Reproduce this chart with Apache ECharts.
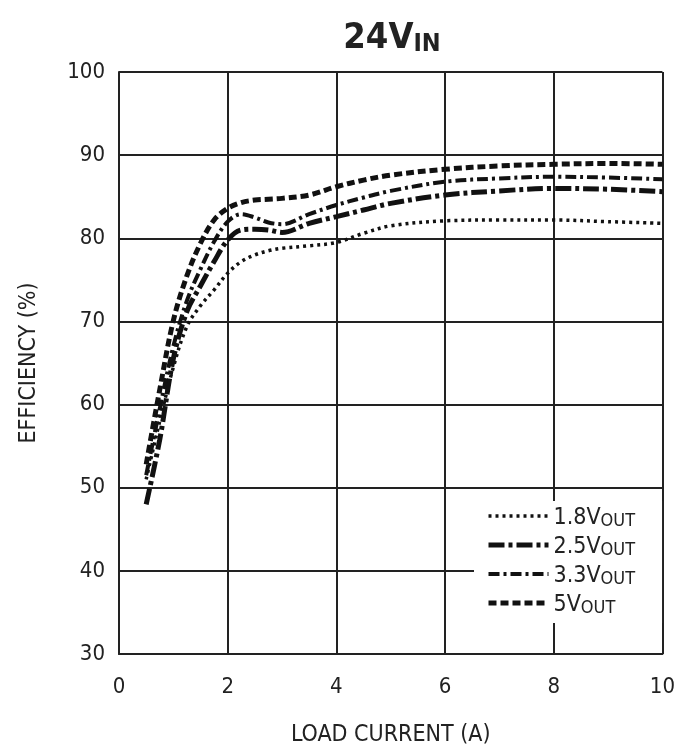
<!DOCTYPE html>
<html>
<head>
<meta charset="utf-8">
<script src="https://cdn.jsdelivr.net/npm/echarts@6/dist/echarts.min.js"></script>
<style>
  html, body { margin: 0; padding: 0; background: #fff; }
  #chart { width: 678px; height: 752px; }
</style>
</head>
<body>
<div id="chart"></div>
<script>
// load current (A), shared by all curves
var loadA = [0.5, 0.75, 1, 1.25, 1.5, 1.75, 2, 2.25, 2.5, 2.75, 3, 3.5, 4, 4.5, 5, 6, 7, 8, 9, 10];

// efficiency (%) per output voltage
var eff18 = [51, 58, 64.5, 69.4, 71.9, 73.8, 75.8, 77.2, 78.0, 78.5, 78.8, 79.1, 79.5, 80.6, 81.5, 82.1, 82.2, 82.2, 82.0, 81.8];
var eff25 = [48, 55.8, 65.5, 71.2, 74.3, 77.2, 79.8, 81.0, 81.1, 81.0, 80.7, 81.8, 82.6, 83.4, 84.2, 85.2, 85.7, 86.0, 85.9, 85.6];
var eff33 = [51.5, 59.5, 67, 72.5, 76.3, 79.6, 82.0, 82.9, 82.5, 81.9, 81.7, 82.9, 84.0, 84.9, 85.7, 86.8, 87.2, 87.4, 87.3, 87.1];
var eff50 = [52.8, 61.8, 70.1, 75.5, 79.4, 82.2, 83.6, 84.3, 84.6, 84.7, 84.8, 85.2, 86.2, 87.0, 87.6, 88.3, 88.7, 88.9, 89.0, 88.9];

var xTicks = [0, 2, 4, 6, 8, 10];
var yTicks = [30, 40, 50, 60, 70, 80, 90, 100];

var seriesNames = ['1.8V', '2.5V', '3.3V', '5V'];

function pairs(ys) {
    return loadA.map(function (x, i) { return [x, ys[i]]; });
}

var font = "'DejaVu Sans Condensed', 'Liberation Sans Narrow', 'Liberation Sans', sans-serif";

// line styles: dotted, heavy dash-dot, dash-dot, dashed
var styles = [
    { width: 3.5, type: [3, 4], cap: 'butt' },
    { width: 5, type: [16, 4, 4, 4], cap: 'butt' },
    { width: 4, type: [11, 4, 3, 4], cap: 'butt' },
    { width: 5, type: [8, 4], cap: 'butt' }
];
var datas = [eff18, eff25, eff33, eff50];

var chart = echarts.init(document.getElementById('chart'));

var option = {
    backgroundColor: '#fff',
    animation: false,
    title: {
        text: '{a|24V}{b|IN}',
        left: 387,
        top: 12,
        textAlign: 'center',
        textStyle: {
            rich: {
                a: { fontFamily: font, fontSize: 36, fontWeight: 'bold', color: '#222', verticalAlign: 'bottom', lineHeight: 40 },
                b: { fontFamily: font, fontSize: 25, fontWeight: 'bold', color: '#222', verticalAlign: 'bottom', lineHeight: 34 }
            }
        }
    },
    grid: { left: 119, right: 14, top: 72, bottom: 96 },
    legend: {
        orient: 'vertical',
        left: 474,
        top: 501,
        backgroundColor: '#fff',
        padding: [6, 27, 6, 12],
        itemGap: 6,
        itemWidth: 60,
        itemHeight: 14,
        data: seriesNames,
        itemStyle: { color: 'rgba(0,0,0,0)', borderWidth: 0, opacity: 0 },
        lineStyle: { width: 'inherit', type: 'inherit', cap: 'inherit' },
        formatter: function (n) { return '{a|' + n + '}{b|OUT}'; },
        textStyle: {
            rich: {
                a: { fontFamily: font, fontSize: 23, color: '#222', verticalAlign: 'bottom', lineHeight: 28 },
                b: { fontFamily: font, fontSize: 18, color: '#222', verticalAlign: 'bottom', lineHeight: 24 }
            }
        }
    },
    xAxis: {
        type: 'value',
        min: 0, max: 10, interval: 2,
        name: 'LOAD CURRENT (A)',
        nameLocation: 'middle',
        nameGap: 70,
        nameTextStyle: { fontFamily: font, fontSize: 23, color: '#222' },
        axisLine: { lineStyle: { color: '#222', width: 2 } },
        axisTick: { show: false },
        axisLabel: { fontFamily: font, fontSize: 22, color: '#222', margin: 22 },
        splitLine: { lineStyle: { color: '#222', width: 2 } }
    },
    yAxis: {
        type: 'value',
        min: 30, max: 100, interval: 10,
        name: 'EFFICIENCY (%)',
        nameLocation: 'middle',
        nameGap: 78,
        nameTextStyle: { fontFamily: font, fontSize: 23, color: '#222' },
        axisLine: { show: true, lineStyle: { color: '#222', width: 2 } },
        axisTick: { show: false },
        axisLabel: { fontFamily: font, fontSize: 22, color: '#222', margin: 14 },
        splitLine: { lineStyle: { color: '#222', width: 2 } }
    },
    series: seriesNames.map(function (n, i) {
        return {
            name: n,
            type: 'line',
            symbol: 'none',
            smooth: 0.35,
            color: '#111',
            lineStyle: Object.assign({ color: '#111' }, styles[i]),
            data: pairs(datas[i])
        };
    })
};

chart.setOption(option);
</script>
</body>
</html>
